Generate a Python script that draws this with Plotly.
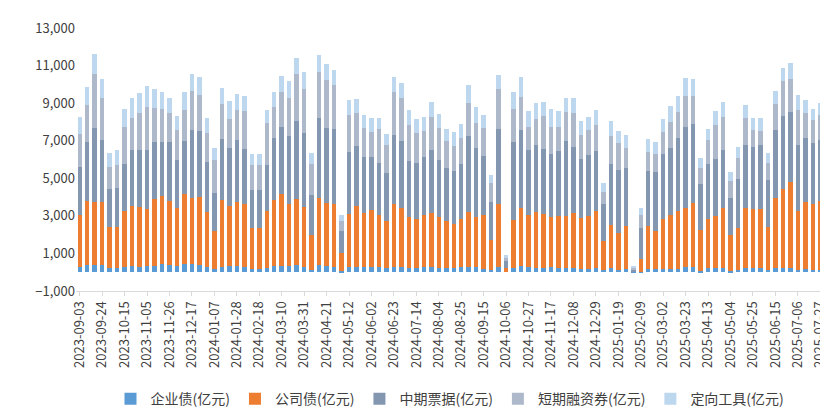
import datetime as dt
import plotly.graph_objects as go

start = dt.date(2023, 9, 3)
dates = [(start + dt.timedelta(weeks=i)).isoformat() for i in range(100)]

qiye = [267,373,373,373,231,231,267,338,267,338,338,445,373,338,445,445,373,267,160,267,338,338,267,160,160,
        231,338,338,338,373,267,124,373,338,267,53,267,267,267,267,267,231,267,267,231,231,267,267,231,231,
        231,267,267,267,160,124,267,0,231,338,267,231,231,267,231,231,231,160,160,231,124,231,124,160,36,
        18,160,160,160,160,160,267,267,89,231,231,231,89,124,231,231,231,124,231,231,231,124,160,124,124]
gongsi = [2791,3414,3378,3378,2169,2169,3005,3200,3200,3023,3556,3627,3414,3094,3734,3520,3627,2951,2027,3592,3200,3414,3378,2205,2205,
          3023,3520,3840,3307,3520,3200,1849,3592,3343,3378,960,2845,3272,2880,3058,2774,2489,3378,3165,2703,2596,2774,2880,2703,2489,
          2347,2560,2951,2667,2880,1600,3378,231,2560,3094,2774,2987,2880,2667,2774,2774,2916,2738,2845,3023,1529,2276,1956,2311,0,
          693,2311,2027,2667,2880,3094,3165,3414,2169,2596,2774,3200,1885,2240,3200,3129,3129,2276,3734,4196,4587,3129,3592,3520,3663]
zhongqi = [2560,3165,3947,3307,2045,2098,2471,2951,3058,3165,3058,2880,3165,2560,2827,3627,3538,2667,2045,3254,3094,3307,2934,2027,2027,
           2471,3307,3574,3627,4178,3965,2151,4267,4018,4000,1191,3307,3200,3005,2827,2791,2578,3680,3574,3005,3005,3112,3378,3058,2845,
           2827,2951,4054,3698,3165,2027,4000,373,4160,4160,3485,3574,3467,3378,3467,4000,3538,3147,3254,3218,1991,3272,3378,3094,71,
           1654,2934,3165,3485,3592,3912,4320,4232,2454,2951,3040,3094,1991,2614,3325,3325,3396,2525,3627,3912,3734,3538,3414,3254,3272]
duanrong = [1742,1956,2863,2223,1173,1227,1991,1742,1956,2276,1796,1742,1529,1582,1636,2062,1902,1529,1742,1849,1529,1582,2009,1334,1334,
            2223,1636,1849,2009,2489,2329,1653,2436,2543,2329,533,1956,1742,1547,1334,1814,1476,2294,2276,1902,1582,1387,1760,1689,1422,
            1334,1387,1742,1316,1494,1013,2116,160,1760,1742,1209,1387,1742,1422,1262,1529,1796,1262,1316,1369,640,1476,1422,1049,107,
            693,1013,960,1173,1387,1387,1654,1494,853,1280,1814,1760,907,1120,1476,907,782,907,1387,1814,1707,1867,1334,1227,1334]
dingxiang = [889,942,1067,996,711,782,960,1031,1067,1102,1013,907,782,729,960,907,960,800,640,853,960,853,800,569,569,
             693,800,853,907,853,907,551,907,853,800,302,800,747,676,729,569,587,782,800,800,747,729,782,747,640,
             729,729,960,853,676,409,747,142,889,1067,853,836,747,960,853,747,800,747,693,800,462,800,640,693,107,
             356,676,622,676,836,836,942,889,516,569,729,782,462,569,676,622,676,516,676,729,889,782,676,569,622]

names = ["企业债(亿元)", "公司债(亿元)", "中期票据(亿元)", "短期融资券(亿元)", "定向工具(亿元)"]
colors = ["#5B9BD5", "#ED7D31", "#8497B0", "#ADB9CA", "#BDD7EE"]
series = [qiye, gongsi, zhongqi, duanrong, dingxiang]

fig = go.Figure()
for n, c, v in zip(names, colors, series):
    fig.add_trace(go.Bar(x=dates, y=v, name=n, marker=dict(color=c, line=dict(width=0))))

fig.update_layout(
    barmode="stack", bargap=0.4,
    width=828, height=413,
    margin=dict(l=68, r=12, t=20, b=130, autoexpand=False),
    plot_bgcolor="white", paper_bgcolor="white",
    font=dict(family="Noto Sans CJK SC, DejaVu Sans", size=13, color="#404040"),
    legend=dict(orientation="h", x=0.5, xanchor="center", y=-0.35, yanchor="top",
                font=dict(size=14), traceorder="normal", itemwidth=30),
    xaxis=dict(type="category", tickmode="array", tickvals=dates[::3], ticktext=dates[::3],
               tickangle=-90, showline=True, linecolor="#D9D9D9", ticks="outside",
               tickcolor="#D9D9D9", ticklen=4, tickfont=dict(size=13), automargin=False),
    yaxis=dict(range=[-1000, 13000], tickvals=list(range(-1000, 13001, 2000)),
               tickformat=",", showgrid=False, zeroline=False, tickfont=dict(size=13),
               automargin=False),
)
fig.write_html("out.html")
